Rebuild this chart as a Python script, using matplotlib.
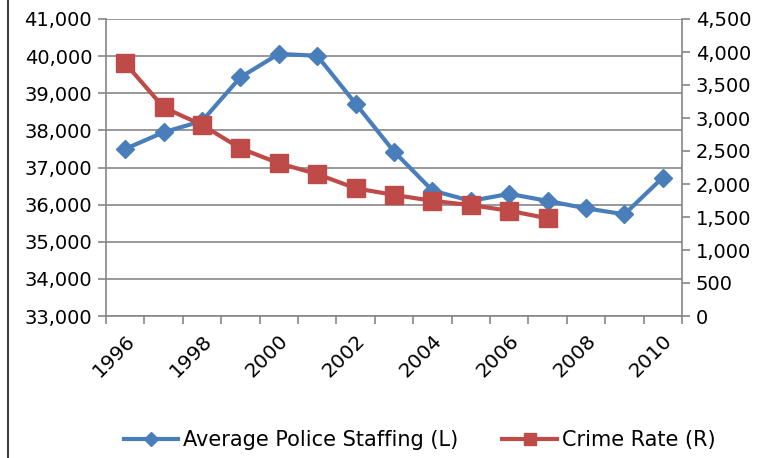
import matplotlib
matplotlib.use("Agg")
import matplotlib.pyplot as plt
from matplotlib.lines import Line2D
import numpy as np

# data
years = list(range(1996, 2011))
staffing = [37500, 37950, 38250, 39430, 40060, 40010, 38720, 37430,
            36380, 36100, 36290, 36100, 35900, 35740, 36730]
crime_years = list(range(1996, 2008))
crime_rate = [3830, 3160, 2895, 2540, 2315, 2150, 1935, 1835,
              1745, 1680, 1595, 1480]
year_labels = [str(y) for y in years[::2]]

blue = "#4A7EBB"
red = "#BE4B48"
grey = "#868686"

plt.rcParams['font.family'] = ['DejaVu Sans']

fig = plt.figure(figsize=(7.66, 4.58), dpi=100)
ax = fig.add_axes([106 / 766, 1 - 316 / 458, 576 / 766, 297 / 458])
ax2 = ax.twinx()

x = np.arange(len(years))
xc = np.arange(len(crime_years))

ax.plot(x, staffing, color=blue, lw=3, marker="D", ms=9.5, zorder=3)
ax2.plot(xc, crime_rate, color=red, lw=3, marker="s", ms=13, zorder=3)

ax.set_ylim(33000, 41000)
ax.set_yticks(np.arange(33000, 41001, 1000))
ax.set_yticklabels([f"{v:,}" for v in range(33000, 41001, 1000)])
ax2.set_ylim(0, 4500)
ax2.set_yticks(np.arange(0, 4501, 500))
ax2.set_yticklabels([f"{v:,}" for v in range(0, 4501, 500)])
ax.set_xlim(-0.5, len(years) - 0.5)

ax.grid(axis="y", color=grey, lw=1.2)
ax.set_axisbelow(True)

# tick marks between categories, labels every other year
ax.set_xticks(np.arange(-0.5, len(years), 1))
ax.set_xticklabels([])
ax.set_xticks(x[::2], minor=True)
ax.set_xticklabels(year_labels, minor=True, rotation=45, ha="right",
                   va="top", rotation_mode="anchor")
ax.tick_params(axis="x", which="minor", length=0, pad=11, labelsize=14.5)
ax.tick_params(axis="x", which="major", length=6, color=grey, width=1.2)
ax.tick_params(axis="y", length=6, color=grey, width=1.2, labelsize=14, pad=4)
ax2.tick_params(axis="y", length=6, color=grey, width=1.2, labelsize=14, pad=4)

for a in (ax, ax2):
    for s in a.spines.values():
        s.set_visible(False)
ax.spines["left"].set_visible(True)
ax.spines["bottom"].set_visible(True)
ax2.spines["right"].set_visible(True)
for s in (ax.spines["left"], ax.spines["bottom"], ax2.spines["right"]):
    s.set_color(grey)
    s.set_linewidth(1.2)

handles = [Line2D([], [], color=blue, lw=3, marker="D", ms=7),
           Line2D([], [], color=red, lw=3, marker="s", ms=8)]
fig.legend(handles, ["Average Police Staffing (L)", "Crime Rate (R)"],
           loc="center", bbox_to_anchor=(0.548, 1 - 440 / 458), ncol=2,
           frameon=False, fontsize=15, handlelength=2.6, columnspacing=2.1,
           handletextpad=0.25)

fig.add_artist(Line2D([8 / 766, 8 / 766], [0, 1], color="#404040", lw=1.5))

fig.savefig("out.png", dpi=100)
